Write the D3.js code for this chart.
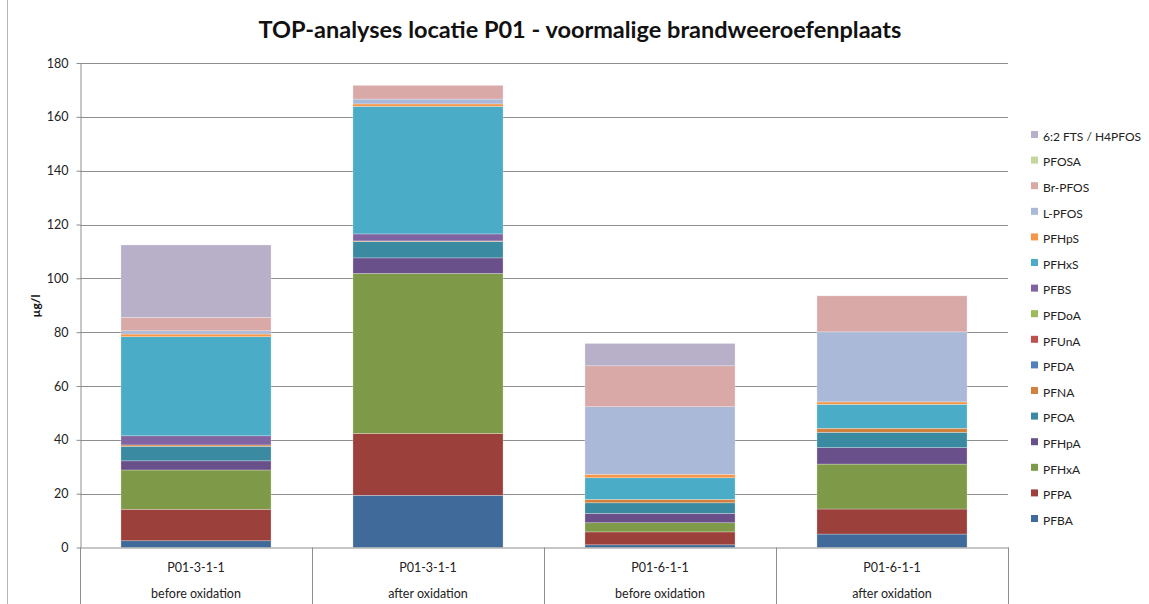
<!DOCTYPE html>
<html>
<head>
<meta charset="utf-8">
<script src="https://cdn.jsdelivr.net/npm/d3@7"></script>
<style>
  body { margin: 0; background: #fff; }
  svg { display: block; font-family: Lato, "Open Sans", sans-serif; }
</style>
</head>
<body>
<svg id="chart" width="1149" height="604"></svg>
<script>
// samples (two label rows per category)
let sampleIds = ["P01-3-1-1", "P01-3-1-1", "P01-6-1-1", "P01-6-1-1"];
let sampleStates = ["before oxidation", "after oxidation", "before oxidation", "after oxidation"];

// stack order, bottom to top
let compounds = ["PFBA", "PFPA", "PFHxA", "PFHpA", "PFOA", "PFNA", "PFDA", "PFUnA",
    "PFDoA", "PFBS", "PFHxS", "PFHpS", "L-PFOS", "Br-PFOS", "PFOSA", "6:2 FTS / H4PFOS"];

// µg/l per sample
let PFBA    = [2.5, 19.4, 1.0, 5.0];
let PFPA    = [11.7, 23.0, 4.8, 9.3];
let PFHxA   = [14.6, 59.4, 3.4, 16.7];
let PFHpA   = [3.4, 5.8, 3.5, 6.1];
let PFOA    = [5.4, 6.1, 3.9, 5.7];
let PFNA    = [0.5, 0.2, 1.3, 1.5];
let PFDA    = [0, 0, 0, 0];
let PFUnA   = [0, 0, 0, 0];
let PFDoA   = [0, 0, 0, 0];
let PFBS    = [3.4, 2.6, 0, 0];
let PFHxS   = [36.8, 47.4, 8.0, 8.9];
let PFHpS   = [1.0, 0.9, 1.3, 0.9];
let L_PFOS  = [1.2, 1.8, 25.1, 26.0];
let Br_PFOS = [5.0, 5.1, 15.2, 13.4];
let PFOSA   = [0, 0, 0, 0];
let FTS62   = [26.9, 0, 8.3, 0];

let yTicks = [0, 20, 40, 60, 80, 100, 120, 140, 160, 180];

let seriesValues = [PFBA, PFPA, PFHxA, PFHpA, PFOA, PFNA, PFDA, PFUnA,
    PFDoA, PFBS, PFHxS, PFHpS, L_PFOS, Br_PFOS, PFOSA, FTS62];

let colors = ["#3f6a9a", "#9c403c", "#7e9a48", "#69508a", "#3a8ba1", "#d3813e", "#4f81bd", "#c0504d",
    "#9bbb59", "#8064a2", "#4aacc6", "#f79646", "#aab9d7", "#d9a9a8", "#c3d69b", "#b8afc8"];

// build table rows for d3.stack
let table = sampleIds.map((id, i) => {
    let row = { idx: i };
    compounds.forEach((c, k) => row[c] = seriesValues[k][i]);
    return row;
});

var svg = d3.select("#chart");
let plotLeft = 80, plotRight = 1008, plotTop = 63, plotBottom = 547.5;

let x = d3.scaleBand()
    .domain(d3.range(sampleIds.length))
    .range([plotLeft, plotRight])
    .paddingInner(0.353)
    .paddingOuter(0.1765);

let y = d3.scaleLinear().domain([0, 180]).range([plotBottom, plotTop]);

let color = d3.scaleOrdinal().domain(compounds).range(colors);

// outer chart border (left edge only visible)
svg.append("line")
    .attr("x1", 7.5).attr("x2", 7.5).attr("y1", 0).attr("y2", 604)
    .attr("stroke", "#b5b5b5");

// title
svg.append("text")
    .attr("x", 580).attr("y", 38)
    .attr("text-anchor", "middle")
    .attr("font-size", 23.5).attr("font-weight", "bold")
    .attr("fill", "#111")
    .text("TOP-analyses locatie P01 - voormalige brandweeroefenplaats");

// gridlines
svg.append("g")
    .selectAll("line")
    .data(yTicks.filter(d => d > 0))
    .join("line")
    .attr("x1", plotLeft).attr("x2", plotRight)
    .attr("y1", d => Math.round(y(d)) + 0.5).attr("y2", d => Math.round(y(d)) + 0.5)
    .attr("stroke", "#8e8e8e").attr("stroke-width", 1);

// stacked bars
let stacked = d3.stack().keys(compounds)(table);
svg.append("g")
    .selectAll("g")
    .data(stacked)
    .join("g")
    .attr("fill", d => color(d.key))
    .selectAll("rect")
    .data(d => d)
    .join("rect")
    .attr("x", d => x(d.data.idx))
    .attr("width", x.bandwidth())
    .attr("y", d => y(d[1]))
    .attr("height", d => y(d[0]) - y(d[1]))
    .attr("stroke", "#ffffff").attr("stroke-opacity", 0.45).attr("stroke-width", 0.6);

// y axis
let yAxis = svg.append("g")
    .attr("transform", `translate(${plotLeft + 0.5},0)`)
    .call(d3.axisLeft(y).tickValues(yTicks).tickSize(4).tickPadding(8).tickSizeOuter(0));
yAxis.select(".domain").attr("stroke", "#8e8e8e");
yAxis.selectAll(".tick line").attr("stroke", "#8e8e8e");
yAxis.selectAll(".tick text").attr("font-size", 12.5).attr("fill", "#222")
    .attr("font-family", "Lato, sans-serif");

// extend axis line to bottom of the category box
svg.append("line")
    .attr("x1", plotLeft + 0.5).attr("x2", plotLeft + 0.5).attr("y1", plotBottom).attr("y2", 604)
    .attr("stroke", "#8e8e8e");

// x axis baseline and category dividers
svg.append("line")
    .attr("x1", plotLeft).attr("x2", plotRight + 1).attr("y1", plotBottom + 0.5).attr("y2", plotBottom + 0.5)
    .attr("stroke", "#8e8e8e");
let step = x.step();
svg.append("g")
    .selectAll("line")
    .data(d3.range(1, sampleIds.length + 1))
    .join("line")
    .attr("x1", i => plotLeft + i * step + 0.5).attr("x2", i => plotLeft + i * step + 0.5)
    .attr("y1", plotBottom).attr("y2", 604)
    .attr("stroke", "#8e8e8e");

let cats = svg.append("g")
    .selectAll("g")
    .data(d3.range(sampleIds.length))
    .join("g")
    .attr("transform", i => `translate(${x(i) + x.bandwidth() / 2},0)`)
    .attr("font-size", 12.5).attr("fill", "#222").attr("text-anchor", "middle");
cats.append("text").attr("y", 572).text(i => sampleIds[i]);
cats.append("text").attr("y", 598).text(i => sampleStates[i]);

// y label
svg.append("text")
    .attr("transform", "translate(40,306) rotate(-90)")
    .attr("text-anchor", "middle")
    .attr("font-size", 12).attr("font-weight", "bold").attr("fill", "#111")
    .text("µg/l");

// legend, top item is last series
let legend = svg.append("g")
    .selectAll("g")
    .data(compounds.slice().reverse())
    .join("g")
    .attr("transform", (d, i) => `translate(1031,${137 + i * 25.6})`);
legend.append("rect")
    .attr("x", 0).attr("y", -6).attr("width", 7).attr("height", 7)
    .attr("fill", d => color(d));
legend.append("text")
    .attr("x", 12).attr("y", 0).attr("dy", "0.32em")
    .attr("font-size", 12).attr("fill", "#222")
    .text(d => d);
</script>
</body>
</html>
